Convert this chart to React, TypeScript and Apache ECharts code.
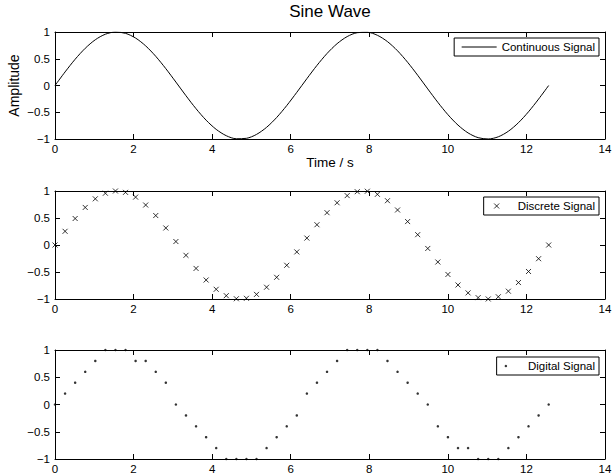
import React, { useEffect, useRef } from 'react';
import * as echarts from 'echarts';

const time = [
  0, 0.2565, 0.5129, 0.7694, 1.0258, 1.2823, 1.5387, 1.7952, 2.0516, 2.3081,
  2.5646, 2.821, 3.0775, 3.3339, 3.5904, 3.8468, 4.1033, 4.3597, 4.6162, 4.8726,
  5.1291, 5.3855, 5.642, 5.8984, 6.1549, 6.4114, 6.6678, 6.9243, 7.1807, 7.4372,
  7.6936, 7.9501, 8.2065, 8.463, 8.7194, 8.9759, 9.2324, 9.4888, 9.7453, 10.0017,
  10.2582, 10.5146, 10.7711, 11.0275, 11.284, 11.5404, 11.7969, 12.0533, 12.3098, 12.5664,
];

const continuousValues = [
  0, 0.2537, 0.4907, 0.6956, 0.8551, 0.9587, 0.9995, 0.9749, 0.8866, 0.7403,
  0.5455, 0.3151, 0.0641, -0.1911, -0.4339, -0.6482, -0.8202, -0.9384, -0.9954, -0.9872,
  -0.9144, -0.7819, -0.5982, -0.3754, -0.1279, 0.1279, 0.3754, 0.5982, 0.7819, 0.9144,
  0.9872, 0.9954, 0.9384, 0.8202, 0.6482, 0.4339, 0.1911, -0.0641, -0.3151, -0.5455,
  -0.7403, -0.8866, -0.9749, -0.9995, -0.9587, -0.8551, -0.6956, -0.4907, -0.2537, 0,
];

const discreteValues = [
  0, 0.2537, 0.4907, 0.6956, 0.8551, 0.9587, 0.9995, 0.9749, 0.8866, 0.7403,
  0.5455, 0.3151, 0.0641, -0.1911, -0.4339, -0.6482, -0.8202, -0.9384, -0.9954, -0.9872,
  -0.9144, -0.7819, -0.5982, -0.3754, -0.1279, 0.1279, 0.3754, 0.5982, 0.7819, 0.9144,
  0.9872, 0.9954, 0.9384, 0.8202, 0.6482, 0.4339, 0.1911, -0.0641, -0.3151, -0.5455,
  -0.7403, -0.8866, -0.9749, -0.9995, -0.9587, -0.8551, -0.6956, -0.4907, -0.2537, 0,
];

const digitalValues = [
  0, 0.2, 0.4, 0.6, 0.8, 1, 1, 1, 0.8, 0.8,
  0.6, 0.4, 0, -0.2, -0.4, -0.6, -0.8, -1, -1, -1,
  -1, -0.8, -0.6, -0.4, -0.2, 0.2, 0.4, 0.6, 0.8, 1,
  1, 1, 1, 0.8, 0.6, 0.4, 0.2, 0, -0.4, -0.6,
  -0.8, -0.8, -1, -1, -1, -0.8, -0.6, -0.4, -0.2, 0,
];

const seriesNames = ['Continuous Signal', 'Discrete Signal', 'Digital Signal'];
const xMin = 0;
const xMax = 14;
const xStep = 2;
const yMin = -1;
const yMax = 1;
const yStep = 0.5;
const titleText = 'Sine Wave';
const xAxisName = 'Time / s';
const yAxisName = 'Amplitude';

const FONT = '"Liberation Sans", Arial, Helvetica, sans-serif';

export default function App() {
  const ref = useRef<HTMLDivElement>(null);

  useEffect(() => {
    const chart = echarts.init(ref.current!, null, { renderer: 'svg' });
    const minus = (v: number) => String(v).replace('-', '\u2212');
    const grids = [
      { top: 32, height: 107 },
      { top: 191, height: 108 },
      { top: 350, height: 109 },
    ].map((g) => ({ left: 55, right: 9, ...g, containLabel: false, outerBoundsMode: 'none' }));

    const line = { show: true, onZero: false, lineStyle: { color: '#000', width: 1 } };
    const tick = { show: true, inside: true, length: 5, lineStyle: { color: '#000', width: 1 } };
    const label = { color: '#000', fontSize: 11.5, fontFamily: FONT, formatter: minus };

    const xAxes: any[] = [];
    const yAxes: any[] = [];
    grids.forEach((_, i) => {
      xAxes.push({
        type: 'value', gridIndex: i, position: 'bottom', min: xMin, max: xMax, interval: xStep,
        axisLine: line, axisTick: tick, splitLine: { show: false },
        axisLabel: { ...label, margin: 4 },
        name: i === 0 ? xAxisName : '', nameLocation: 'middle', nameGap: 16, nameMoveOverlap: false,
        nameTextStyle: { color: '#000', fontSize: 13.5, fontFamily: FONT },
      });
      xAxes.push({
        type: 'value', gridIndex: i, position: 'top', min: xMin, max: xMax, interval: xStep,
        axisLine: line, axisTick: tick, splitLine: { show: false }, axisLabel: { show: false },
      });
      yAxes.push({
        type: 'value', gridIndex: i, position: 'left', min: yMin, max: yMax, interval: yStep,
        axisLine: line, axisTick: tick, splitLine: { show: false },
        axisLabel: { ...label, margin: 5 },
        name: i === 0 ? yAxisName : '', nameLocation: 'middle', nameGap: 34, nameMoveOverlap: false,
        nameTextStyle: { color: '#000', fontSize: 14, fontFamily: FONT },
      });
      yAxes.push({
        type: 'value', gridIndex: i, position: 'right', min: yMin, max: yMax, interval: yStep,
        axisLine: line, axisTick: tick, splitLine: { show: false }, axisLabel: { show: false },
      });
    });

    const legendBase = {
      orient: 'horizontal',
      right: 15,
      borderColor: '#000',
      borderWidth: 1,
      borderRadius: 0,
      backgroundColor: '#fff',
      selectedMode: false,
      textStyle: { color: '#000', fontSize: 11.5, fontFamily: FONT },
    };

    const toPairs = (ys: number[]) => time.map((t, i) => [t, ys[i]]);

    chart.setOption({
      animation: false,
      backgroundColor: '#fff',
      graphic: [
        {
          type: 'text', x: 330, y: 3,
          style: { text: titleText, textAlign: 'center', textVerticalAlign: 'top', fill: '#000', font: `17px ${FONT}` },
        },
      ],
      legend: [
        {
          ...legendBase, data: [seriesNames[0]], top: 38, padding: [3, 4, 3, 7], itemWidth: 35, itemHeight: 12,
          itemStyle: { opacity: 0 }, lineStyle: { width: 1, color: '#000' },
        },
        {
          ...legendBase, data: [seriesNames[1]], top: 197, padding: [3, 4, 3, 10], itemWidth: 32, itemHeight: 5,
          itemStyle: { borderColor: '#000', borderWidth: 1, color: '#000' },
        },
        { ...legendBase, data: [seriesNames[2]], top: 357, padding: [3, 4, 3, 8], itemWidth: 34, itemHeight: 2.5 },
      ],
      grid: grids,
      xAxis: xAxes,
      yAxis: yAxes,
      series: [
        {
          name: seriesNames[0], type: 'line', xAxisIndex: 0, yAxisIndex: 0,
          data: toPairs(continuousValues), smooth: 0.3, symbol: 'none', showSymbol: false,
          lineStyle: { color: '#000', width: 1 }, itemStyle: { color: '#000' },
        },
        {
          name: seriesNames[1], type: 'scatter', xAxisIndex: 2, yAxisIndex: 2,
          data: toPairs(discreteValues), symbol: 'path://M0,0L10,10M10,0L0,10', symbolSize: 5,
          symbolKeepAspect: true,
          itemStyle: { color: '#000', borderColor: '#000', borderWidth: 1 },
        },
        {
          name: seriesNames[2], type: 'scatter', xAxisIndex: 4, yAxisIndex: 4,
          data: toPairs(digitalValues), symbol: 'circle', symbolSize: 2.5,
          itemStyle: { color: '#000' },
        },
      ],
    });
    return () => chart.dispose();
  }, []);

  return (
    <div
      ref={ref}
      style={{ position: 'absolute', left: 0, top: 0, width: 614, height: 475, background: '#fff' }}
    />
  );
}
